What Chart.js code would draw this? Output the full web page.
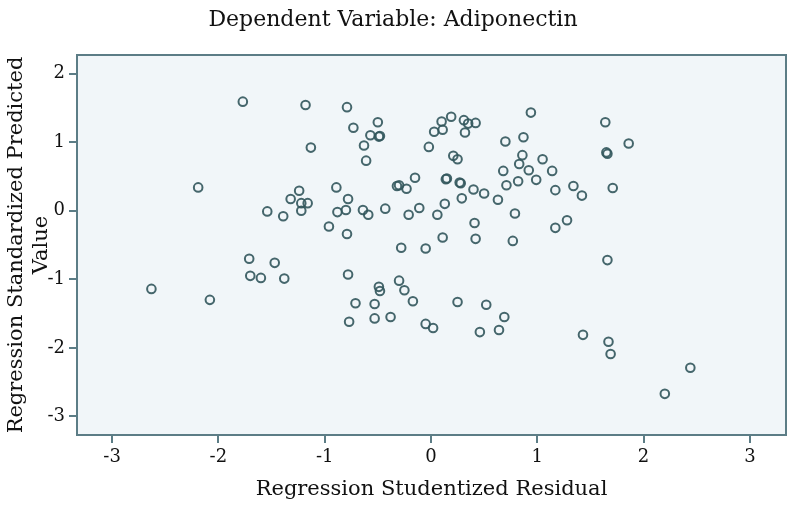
<!DOCTYPE html>
<html lang="en">
<head>
    <meta charset="UTF-8">
    <title>Dependent Variable: Adiponectin</title>
    <script src="https://cdn.jsdelivr.net/npm/chart.js@4.4.0/dist/chart.umd.min.js"></script>
    <style>
        body { margin: 0; background: #fff; }
        #wrap { width: 794px; height: 514px; }
    </style>
</head>
<body>
    <div id="wrap"><canvas id="chart"></canvas></div>
    <script>
        // Studentized residual (x) and standardized predicted value (y)
        const residuals = [
            -2.63, -2.19, -2.08, -1.77, -1.71, -1.70, -1.60, -1.54, -1.47, -1.39,
            -1.38, -1.32, -1.24, -1.22, -1.16, -1.22, -1.18, -1.13, -0.96, -0.89,
            -0.88, -0.80, -0.79, -0.79, -0.78, -0.78, -0.77, -0.73, -0.71, -0.64,
            -0.59, -0.63, -0.61, -0.57, -0.49, -0.48, -0.50, -0.53, -0.53, -0.49,
            -0.48, -0.43, -0.38, -0.32, -0.30, -0.23, -0.30, -0.28, -0.25, -0.21,
            -0.17, -0.15, -0.11, -0.05, -0.05, 0.02, -0.02, 0.03, 0.06, 0.11,
            0.10, 0.19, 0.11, 0.13, 0.14, 0.15, 0.21, 0.25, 0.25, 0.28,
            0.27, 0.29, 0.31, 0.35, 0.42, 0.32, 0.40, 0.41, 0.42, 0.46,
            0.50, 0.52, 0.63, 0.64, 0.68, 0.70, 0.69, 0.71, 0.77, 0.79,
            0.82, 0.83, 0.86, 0.87, 0.92, 0.94, 0.99, 1.05, 1.14, 1.17,
            1.17, 1.28, 1.34, 1.42, 1.43, 1.64, 1.66, 1.65, 1.66, 1.67,
            1.69, 1.71, 1.86, 2.20, 2.44
        ];
        const predicted = [
            -1.14, 0.34, -1.30, 1.59, -0.70, -0.95, -0.98, -0.01, -0.76, -0.08,
            -0.99, 0.17, 0.29, 0.11, 0.11, 0.00, 1.54, 0.92, -0.23, 0.34,
            -0.02, 0.01, 1.51, -0.34, 0.17, -0.93, -1.62, 1.21, -1.35, 0.01,
            -0.06, 0.95, 0.73, 1.10, 1.08, 1.09, 1.29, -1.36, -1.57, -1.11,
            -1.17, 0.03, -1.55, 0.36, 0.37, 0.32, -1.02, -0.54, -1.16, -0.06,
            -1.32, 0.48, 0.04, -0.55, -1.65, -1.71, 0.93, 1.15, -0.06, 1.18,
            1.30, 1.37, -0.39, 0.10, 0.46, 0.47, 0.80, 0.75, -1.33, 0.40,
            0.41, 0.18, 1.32, 1.27, 1.28, 1.14, 0.31, -0.18, -0.41, -1.77,
            0.25, -1.37, 0.16, -1.74, 0.58, 1.01, -1.55, 0.37, -0.44, -0.04,
            0.43, 0.68, 0.81, 1.07, 0.59, 1.43, 0.45, 0.75, 0.58, 0.30,
            -0.25, -0.14, 0.36, 0.22, -1.81, 1.29, 0.83, 0.85, -0.72, -1.91,
            -2.09, 0.33, 0.98, -2.67, -2.29
        ];
        const xTicks = [-3, -2, -1, 0, 1, 2, 3];
        const yTicks = [-3, -2, -1, 0, 1, 2];

        const points = residuals.map((x, i) => ({ x: x, y: predicted[i] }));

        const axisColor = "rgb(92, 125, 134)";
        const serif = "'DejaVu Serif', serif";

        // plot area fill and frame
        const frame = {
            id: "frame",
            beforeDatasetsDraw(chart) {
                const a = chart.chartArea;
                const ctx = chart.ctx;
                ctx.save();
                ctx.fillStyle = "#f1f6f9";
                ctx.fillRect(a.left, a.top, a.right - a.left, a.bottom - a.top);
                ctx.restore();
            },
            afterDraw(chart) {
                const a = chart.chartArea;
                const ctx = chart.ctx;
                ctx.save();
                ctx.strokeStyle = axisColor;
                ctx.lineWidth = 2;
                ctx.strokeRect(a.left, a.top, a.right - a.left, a.bottom - a.top);
                ctx.restore();
            }
        };

        const ctx = document.getElementById("chart").getContext("2d");
        const chart = new Chart(ctx, {
            type: "scatter",
            data: {
                datasets: [{
                    data: points,
                    pointRadius: 4.3,
                    pointBorderWidth: 2,
                    pointBorderColor: "rgba(50, 86, 92, 0.9)",
                    pointBackgroundColor: "rgba(0,0,0,0)"
                }]
            },
            options: {
                responsive: true,
                maintainAspectRatio: false,
                animation: false,
                layout: { padding: { left: 0, right: 8, top: 0, bottom: 0 } },
                plugins: {
                    legend: { display: false },
                    tooltip: { enabled: false },
                    title: {
                        display: true,
                        text: "Dependent Variable: Adiponectin",
                        color: "#111",
                        font: { family: serif, size: 22, weight: "normal", lineHeight: 1.2 },
                        padding: { top: 7, bottom: 21.6 }
                    }
                },
                scales: {
                    x: {
                        type: "linear",
                        min: -3.33,
                        max: 3.34,
                        afterBuildTicks: (s) => { s.ticks = xTicks.map(v => ({ value: v })); },
                        afterFit: (s) => { s.height = 79; },
                        grid: { drawOnChartArea: false, drawTicks: true, tickLength: 8, color: axisColor, lineWidth: 2 },
                        border: { display: false },
                        ticks: { color: "#111", padding: 4, font: { family: serif, size: 18 } },
                        title: {
                            display: true,
                            text: "Regression Studentized Residual",
                            color: "#111",
                            font: { family: serif, size: 21, lineHeight: 1.2 },
                            padding: { top: 0, bottom: 12 }
                        }
                    },
                    y: {
                        type: "linear",
                        min: -3.27,
                        max: 2.27,
                        afterBuildTicks: (s) => { s.ticks = yTicks.map(v => ({ value: v })); },
                        afterFit: (s) => { s.width = 77; },
                        grid: { drawOnChartArea: false, drawTicks: true, tickLength: 8, color: axisColor, lineWidth: 2 },
                        border: { display: false },
                        ticks: { color: "#111", padding: 4, font: { family: serif, size: 18 } },
                        title: {
                            display: true,
                            text: ["Regression Standardized Predicted", "Value"],
                            color: "#111",
                            font: { family: serif, size: 21, lineHeight: 1.2 },
                            padding: { top: 4, bottom: 0 }
                        }
                    }
                }
            },
            plugins: [frame]
        });
    </script>
</body>
</html>
